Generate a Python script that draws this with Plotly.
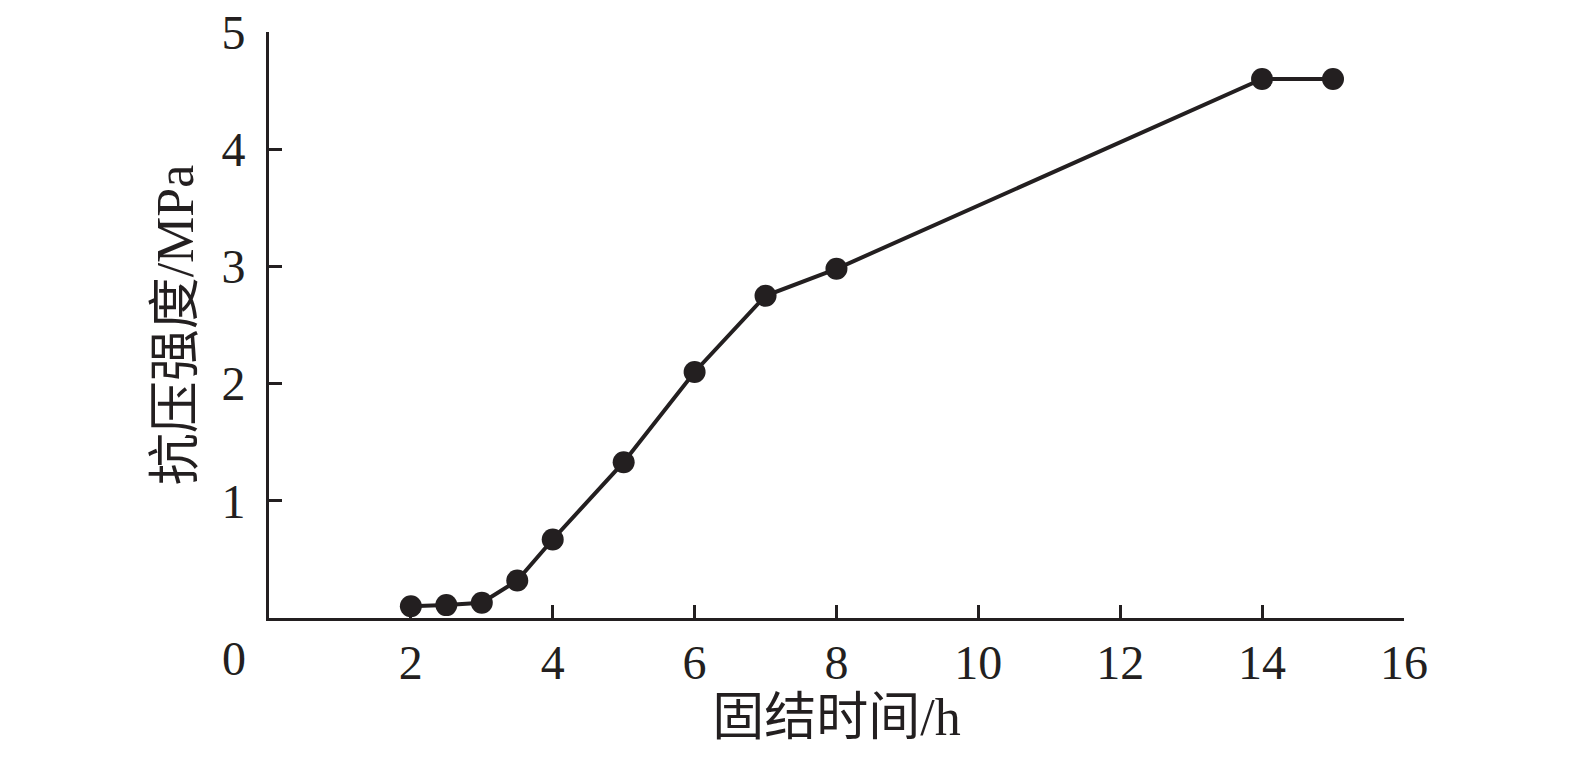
import plotly.graph_objects as go

time_h = [2, 2.5, 3, 3.5, 4, 5, 6, 7, 8, 14, 15]
strength_mpa = [0.10, 0.11, 0.13, 0.32, 0.67, 1.33, 2.10, 2.75, 2.98, 4.60, 4.60]
x_ticks = [2, 4, 6, 8, 10, 12, 14, 16]
y_ticks = [1, 2, 3, 4, 5]
x_title = "固结时间/h"
y_title = "抗压强度/MPa"

ink = "#231f20"
font_family = "Liberation Serif, Times New Roman, Noto Sans CJK SC, serif"

fig = go.Figure()
fig.add_trace(go.Scatter(
    x=time_h, y=strength_mpa, mode="lines+markers",
    line=dict(color=ink, width=4),
    marker=dict(color=ink, size=22),
    showlegend=False, cliponaxis=False,
))

fig.update_layout(
    width=1575, height=760,
    margin=dict(l=261, r=179, t=24, b=150, autoexpand=False),
    plot_bgcolor="white", paper_bgcolor="white",
    font=dict(family=font_family, color=ink, size=48),
)
fig.update_xaxes(
    range=[0, 16.001], tickvals=x_ticks, ticktext=[str(v) for v in x_ticks],
    showgrid=False, zeroline=False, showline=True, linecolor=ink, linewidth=3,
    ticks="inside", ticklen=13, tickwidth=3, tickcolor=ink,
    tickfont=dict(size=48, family=font_family, color=ink),
    ticklabelstandoff=0, automargin=False, ticklabeloverflow="allow",
    title=dict(text=x_title, font=dict(size=52, family=font_family, color=ink), standoff=6),
)
fig.update_yaxes(
    range=[0, 5.001], tickvals=y_ticks, ticktext=[str(v) for v in y_ticks],
    showgrid=False, zeroline=False, showline=True, linecolor=ink, linewidth=3,
    ticks="inside", ticklen=13, tickwidth=3, tickcolor=ink,
    tickfont=dict(size=48, family=font_family, color=ink),
    ticklabelstandoff=11, automargin=False, ticklabeloverflow="allow",
    title=dict(text=y_title, font=dict(size=52, family=font_family, color=ink), standoff=12),
)
fig.add_annotation(
    x=0, y=0, xref="x", yref="y", text="0", showarrow=False,
    xanchor="center", yanchor="top", xshift=-35, yshift=-12,
    font=dict(size=48, family=font_family, color=ink),
)
fig.write_html("out.html")
